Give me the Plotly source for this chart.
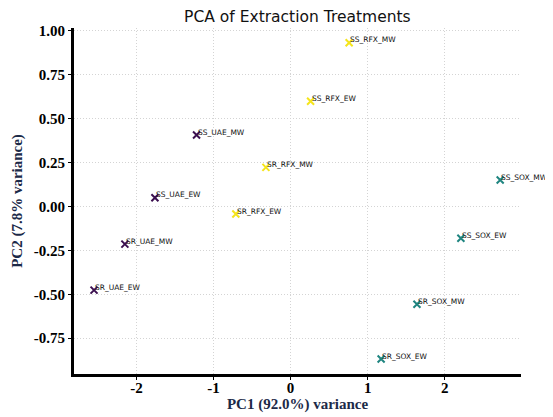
import plotly.graph_objects as go

labels = ["SR_UAE_EW", "SR_UAE_MW", "SS_UAE_EW", "SS_UAE_MW",
          "SR_RFX_EW", "SR_RFX_MW", "SS_RFX_EW", "SS_RFX_MW",
          "SR_SOX_EW", "SR_SOX_MW", "SS_SOX_EW", "SS_SOX_MW"]
pc1 = [-2.55, -2.15, -1.76, -1.22, -0.71, -0.32, 0.26, 0.76, 1.175, 1.64, 2.21, 2.72]
pc2 = [-0.476, -0.214, 0.05, 0.407, -0.043, 0.223, 0.60, 0.933, -0.869, -0.557, -0.181, 0.151]
methods = ["UAE", "UAE", "UAE", "UAE", "RFX", "RFX", "RFX", "RFX", "SOX", "SOX", "SOX", "SOX"]
method_colors = {"UAE": "#3b0f4f", "RFX": "#f5e51b", "SOX": "#1f8580"}

xticks = [-2, -1, 0, 1, 2]
yticks = [-0.75, -0.5, -0.25, 0.0, 0.25, 0.5, 0.75, 1.0]

point_colors = [method_colors[m] for m in methods]

fig = go.Figure()
fig.add_trace(go.Scatter(
    x=pc1, y=pc2, mode="markers",
    marker=dict(symbol="x-thin-open", size=7, color=point_colors,
                line=dict(width=2, color=point_colors)),
    showlegend=False, hoverinfo="text", text=labels, cliponaxis=False,
))

for lab, xv, yv in zip(labels, pc1, pc2):
    fig.add_annotation(x=xv, y=yv, text=lab, showarrow=False,
                       xanchor="left", yanchor="middle", xshift=-1, yshift=3,
                       font=dict(family="DejaVu Sans", size=7.5, color="#111111"))

# page body adds an 8px margin, so the figure is sized to fit the remaining window
fig.update_layout(
    width=545, height=409,
    margin=dict(l=66, r=32, t=20, b=43),
    plot_bgcolor="white", paper_bgcolor="white",
    title=dict(text="PCA of Extraction Treatments", x=0.531, xanchor="center",
               y=0.978, yanchor="middle",
               font=dict(family="DejaVu Sans", size=15.5, color="#111111")),
)
axis_common = dict(
    showline=True, linecolor="black", linewidth=3, mirror=False,
    showgrid=True, gridcolor="#d4d4d4", griddash="1px,2px", gridwidth=1,
    zeroline=False, ticks="outside", ticklen=3, tickcolor="black", tickwidth=1,
    automargin=False,
    tickfont=dict(family="Liberation Serif", size=15, color="black", weight="bold"),
)
fig.update_xaxes(range=[-2.81, 2.99], tickvals=xticks, ticktext=[str(t) for t in xticks],
                 ticklabelstandoff=-5,
                 title=dict(text="PC1 (92.0%) variance", standoff=4,
                            font=dict(family="Liberation Serif", size=15, color="#1c2a48", weight="bold")),
                 **axis_common)
fig.update_yaxes(range=[-0.954, 1.017], tickvals=yticks, ticktext=[f"{t:.2f}" for t in yticks],
                 title=dict(text="PC2 (7.8% variance)", standoff=8,
                            font=dict(family="Liberation Serif", size=15, color="#1c2a48", weight="bold")),
                 **axis_common)

fig.write_html("out.html")
